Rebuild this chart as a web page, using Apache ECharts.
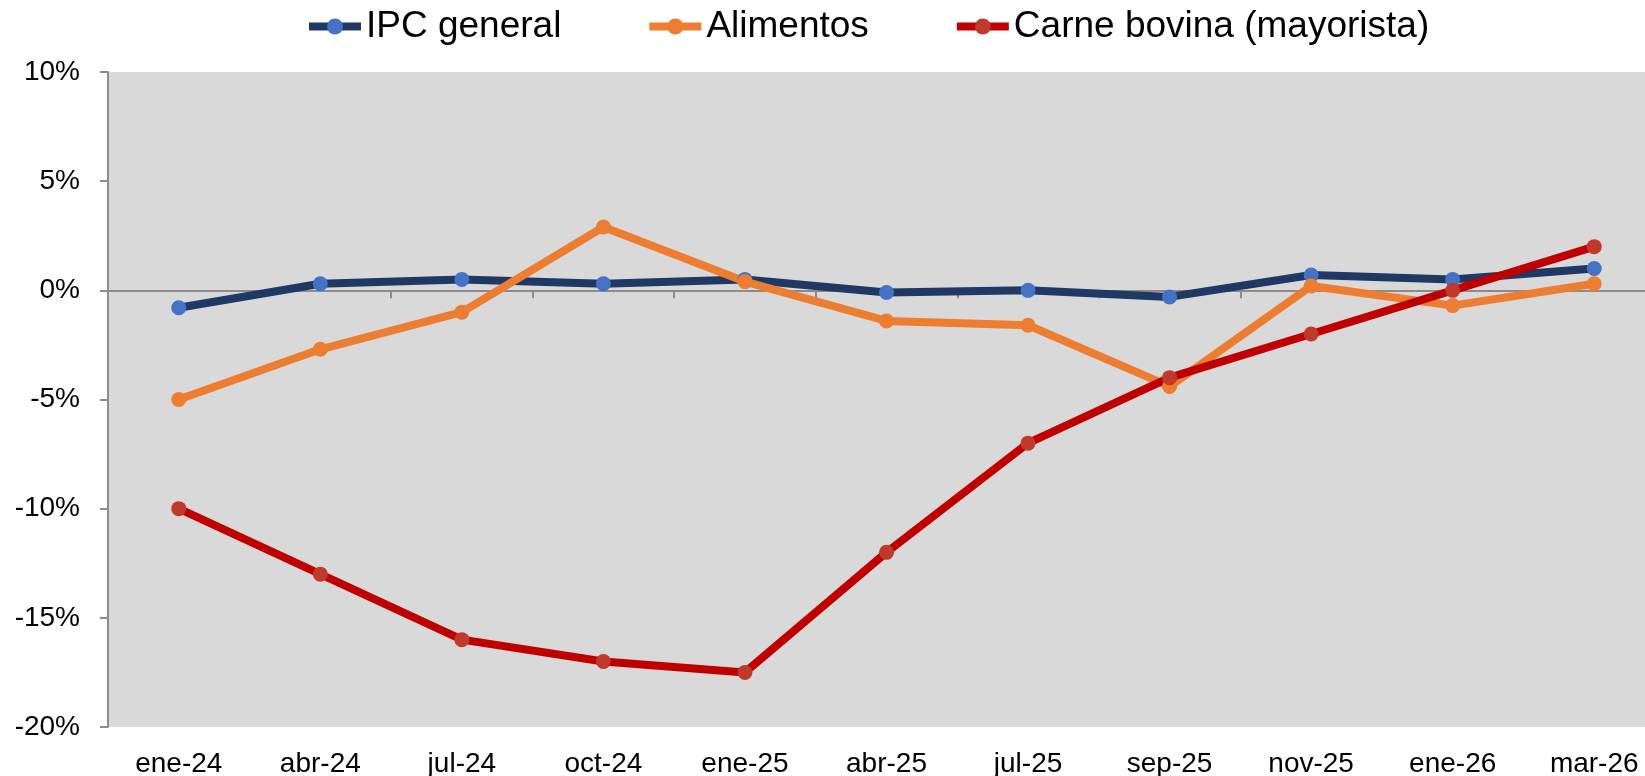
<!DOCTYPE html>
<html>
<head>
<meta charset="utf-8">
<script src="https://cdn.jsdelivr.net/npm/echarts@6/dist/echarts.min.js"></script>
<style>
  html, body { margin: 0; padding: 0; background: #fff; }
  #main { width: 1645px; height: 776px; }
</style>
</head>
<body>
<div id="main"></div>
<script>
var months = ['ene-24', 'abr-24', 'jul-24', 'oct-24', 'ene-25', 'abr-25', 'jul-25', 'sep-25', 'nov-25', 'ene-26', 'mar-26'];
var ipcGeneral = [-0.8, 0.3, 0.5, 0.3, 0.5, -0.1, 0.0, -0.3, 0.7, 0.5, 1.0];
var alimentos = [-5.0, -2.7, -1.0, 2.9, 0.4, -1.4, -1.6, -4.4, 0.2, -0.7, 0.3];
var carneBovina = [-10.0, -13.0, -16.0, -17.0, -17.5, -12.0, -7.0, -4.0, -2.0, 0.0, 2.0];

var chart = echarts.init(document.getElementById('main'), null, { renderer: 'canvas' });

function lineSeries(name, data, lineColor, dotColor) {
  return {
    name: name,
    type: 'line',
    xAxisIndex: 0,
    data: data,
    symbol: 'circle',
    symbolSize: 15,
    lineStyle: { color: lineColor, width: 8 },
    itemStyle: { color: dotColor },
    emphasis: { disabled: true },
    animation: false
  };
}

var option = {
  backgroundColor: '#ffffff',
  textStyle: { fontFamily: 'Liberation Sans, Arial, sans-serif' },
  legend: {
    top: 3,
    left: 300,
    itemWidth: 52,
    itemHeight: 20,
    itemGap: 84,
    lineStyle: { width: 8 },
    textStyle: { fontSize: 37, color: '#000' },
    data: ['IPC general', 'Alimentos', 'Carne bovina (mayorista)']
  },
  grid: {
    left: 108,
    width: 1557,
    top: 72,
    bottom: 49,
    outerBoundsMode: 'none',
    containLabel: false,
    show: true,
    backgroundColor: '#d9d9d9',
    borderWidth: 0
  },
  xAxis: [
    {
      type: 'category',
      data: months,
      position: 'bottom',
      boundaryGap: true,
      axisLine: { show: false, onZero: false },
      axisTick: { show: false },
      axisLabel: { fontSize: 28, color: '#000', margin: 23, interval: 0 }
    },
    {
      type: 'category',
      data: months,
      position: 'bottom',
      boundaryGap: true,
      axisLine: { show: true, onZero: true, lineStyle: { color: '#8c8c8c', width: 2 } },
      axisTick: { show: true, inside: false, length: 8, lineStyle: { color: '#8c8c8c', width: 2 } },
      axisLabel: { show: false },
      splitLine: { show: false }
    }
  ],
  yAxis: {
    type: 'value',
    min: -20,
    max: 10,
    interval: 5,
    axisLine: { show: true, lineStyle: { color: '#8c8c8c', width: 2 } },
    axisTick: { show: true, length: 8, lineStyle: { color: '#8c8c8c', width: 2 } },
    axisLabel: { fontSize: 28, color: '#000', margin: 28, formatter: '{value}%' },
    splitLine: { show: false }
  },
  series: [
    lineSeries('IPC general', ipcGeneral, '#1f3864', '#4472c4'),
    lineSeries('Alimentos', alimentos, '#ed7d31', '#ed7d31'),
    lineSeries('Carne bovina (mayorista)', carneBovina, '#c00000', '#c0392b')
  ]
};

chart.setOption(option);
</script>
</body>
</html>
